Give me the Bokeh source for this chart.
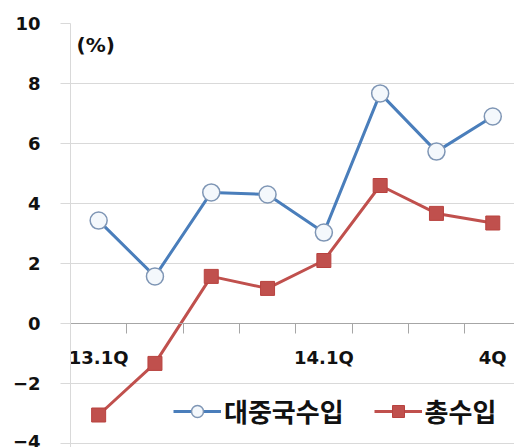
from bokeh.plotting import figure
from bokeh.models import FixedTicker, Range1d, Legend, LegendItem, Label
from bokeh.embed import file_html
from bokeh.resources import INLINE

quarters = [1, 2, 3, 4, 5, 6, 7, 8]
quarter_labels = ["13.1Q", "", "", "", "14.1Q", "", "", "4Q"]
china_imports = [3.43, 1.57, 4.37, 4.3, 3.03, 7.67, 5.73, 6.9]
total_imports = [-3.05, -1.33, 1.57, 1.17, 2.1, 4.6, 3.67, 3.35]
y_ticks = [-4, -2, 0, 2, 4, 6, 8, 10]
series_names = ["대중국수입", "총수입"]

BLUE = "#4a7ebb"
RED = "#c0504d"
GRID = "#d9d9d9"

p = figure(width=514, height=447, output_backend="svg", toolbar_location=None,
           x_range=Range1d(0.5, 8.386), y_range=Range1d(-4.133, 10),
           min_border_left=70, min_border_top=23, min_border_bottom=0,
           min_border_right=0)
p.outline_line_color = None
p.xgrid.grid_line_color = None
p.ygrid.grid_line_color = GRID
p.ygrid.ticker = FixedTicker(ticks=y_ticks)

# y axis
p.yaxis.ticker = FixedTicker(ticks=y_ticks)
p.yaxis.axis_line_color = GRID
p.yaxis.major_tick_line_color = GRID
p.yaxis.major_tick_out = 10
p.yaxis.major_tick_in = 0
p.yaxis.minor_tick_line_color = None
p.yaxis.major_label_standoff = 20
p.yaxis.major_label_text_font = "DejaVu Sans"
p.yaxis.major_label_text_font_style = "bold"
p.yaxis.major_label_text_font_size = "18px"
p.yaxis.major_label_text_color = "#111111"

# x axis at y = 0
boundaries = [q - 0.5 for q in quarters] + [quarters[-1] + 0.5]
p.xaxis.fixed_location = 0
p.xaxis.ticker = FixedTicker(ticks=quarters, minor_ticks=boundaries)
p.xaxis.major_label_overrides = {q: lab for q, lab in zip(quarters, quarter_labels)}
p.xaxis.axis_line_color = "#a6a6a6"
p.xaxis.major_tick_line_color = None
p.xaxis.minor_tick_line_color = "#a6a6a6"
p.xaxis.minor_tick_out = 10
p.xaxis.minor_tick_in = 0
p.xaxis.major_tick_out = 0
p.xaxis.major_tick_in = 0
p.xaxis.major_label_standoff = 13
p.xaxis.major_label_text_font = "DejaVu Sans"
p.xaxis.major_label_text_font_style = "bold"
p.xaxis.major_label_text_font_size = "18px"
p.xaxis.major_label_text_color = "#111111"

l1 = p.line(quarters, china_imports, line_color=BLUE, line_width=3)
m1 = p.scatter(quarters, china_imports, marker="circle", size=17,
               fill_color="#f4f8fc", line_color="#7f96b5", line_width=1.5)
l2 = p.line(quarters, total_imports, line_color=RED, line_width=3)
m2 = p.scatter(quarters, total_imports, marker="square", size=14,
               fill_color=RED, line_color="#b8423f", line_width=1)

legend = Legend(items=[LegendItem(label=series_names[0], renderers=[l1, m1]),
                       LegendItem(label=series_names[1], renderers=[l2, m2])],
                orientation="horizontal", location=(103, 18),
                glyph_width=48, glyph_height=30, label_standoff=3, spacing=30,
                padding=0, margin=0, border_line_color=None,
                background_fill_alpha=0,
                label_text_font="Noto Sans CJK KR", label_text_font_style="bold",
                label_text_font_size="26px", label_text_color="#111111")
p.add_layout(legend, "center")

unit = Label(x=6, y=9.3, x_units="screen", y_units="data", text="(%)",
             text_font="DejaVu Sans", text_font_style="bold", text_font_size="20px",
             text_color="#111111", text_baseline="middle")
p.add_layout(unit)

open("out.html", "w").write(file_html(p, INLINE))
